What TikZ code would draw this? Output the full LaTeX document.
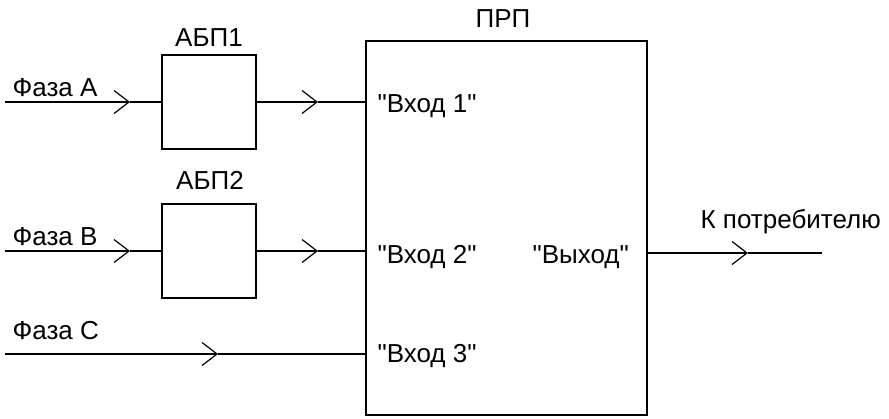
\documentclass[tikz,border=0pt]{standalone}
\usepackage{fontspec}
\newfontfamily\pf{Liberation Sans}
\usetikzlibrary{arrows.meta}
\begin{document}
\begin{tikzpicture}[x=1pt,y=-1pt,line width=1.2pt,
  blk/.style={draw,rectangle,inner sep=0pt,minimum width=94pt,minimum height=94pt},
  lbl/.style={inner sep=0pt,anchor=base west,font=\pf\fontsize{26}{30}\selectfont},
  clbl/.style={inner sep=0pt,anchor=base,font=\pf\fontsize{26}{30}\selectfont},
  arr/.style={-{Straight Barb[length=15pt,width=23pt,line width=1.2pt]}}]
\useasboundingbox (0,0) rectangle (889,418);
% blocks
\node[blk] (abp1) at (209,102) {};
\node[blk] (abp2) at (209,251) {};
\node[draw,rectangle,inner sep=0pt,minimum width=281pt,minimum height=374pt] (prp) at (506.5,228) {};
% labels
\node[clbl] (t1) at (209,46) {АБП1};
\node[clbl] (t2) at (210,189) {АБП2};
\node[clbl] (t3) at (503,27) {ПРП};
\node[lbl] (fa) at (12,96) {Фаза A};
\node[lbl] (fb) at (12,245) {Фаза B};
\node[lbl] (fc) at (12,339) {Фаза C};
\node[lbl] (in1) at (377,112) {"Вход 1"};
\node[lbl] (in2) at (377,263) {"Вход 2"};
\node[lbl] (in3) at (377,362) {"Вход 3"};
\node[lbl] (out) at (532,263) {"Выход"};
\node[lbl] (cons) at (700,228) {К потребителю};
% coordinates
\coordinate (sa) at (5,102);
\coordinate (sb) at (5,251);
\coordinate (sc) at (5,354);
\coordinate (ta) at (130,102);
\coordinate (tb) at (130,251);
\coordinate (tc) at (218,354);
\coordinate (ta2) at (318,102);
\coordinate (tb2) at (318,251);
\coordinate (to) at (748,253);
\coordinate (eo) at (822,253);
% connectors
\draw[arr] (sa) -- (ta);
\draw (ta) -- (abp1.west);
\draw[arr] (abp1.east) -- (ta2);
\draw (ta2) -- (prp.west |- ta2);
\draw[arr] (sb) -- (tb);
\draw (tb) -- (abp2.west);
\draw[arr] (abp2.east) -- (tb2);
\draw (tb2) -- (prp.west |- tb2);
\draw[arr] (sc) -- (tc);
\draw (tc) -- (prp.west |- tc);
\draw[arr] (prp.east |- to) -- (to);
\draw (to) -- (eo);
\end{tikzpicture}
\end{document}
